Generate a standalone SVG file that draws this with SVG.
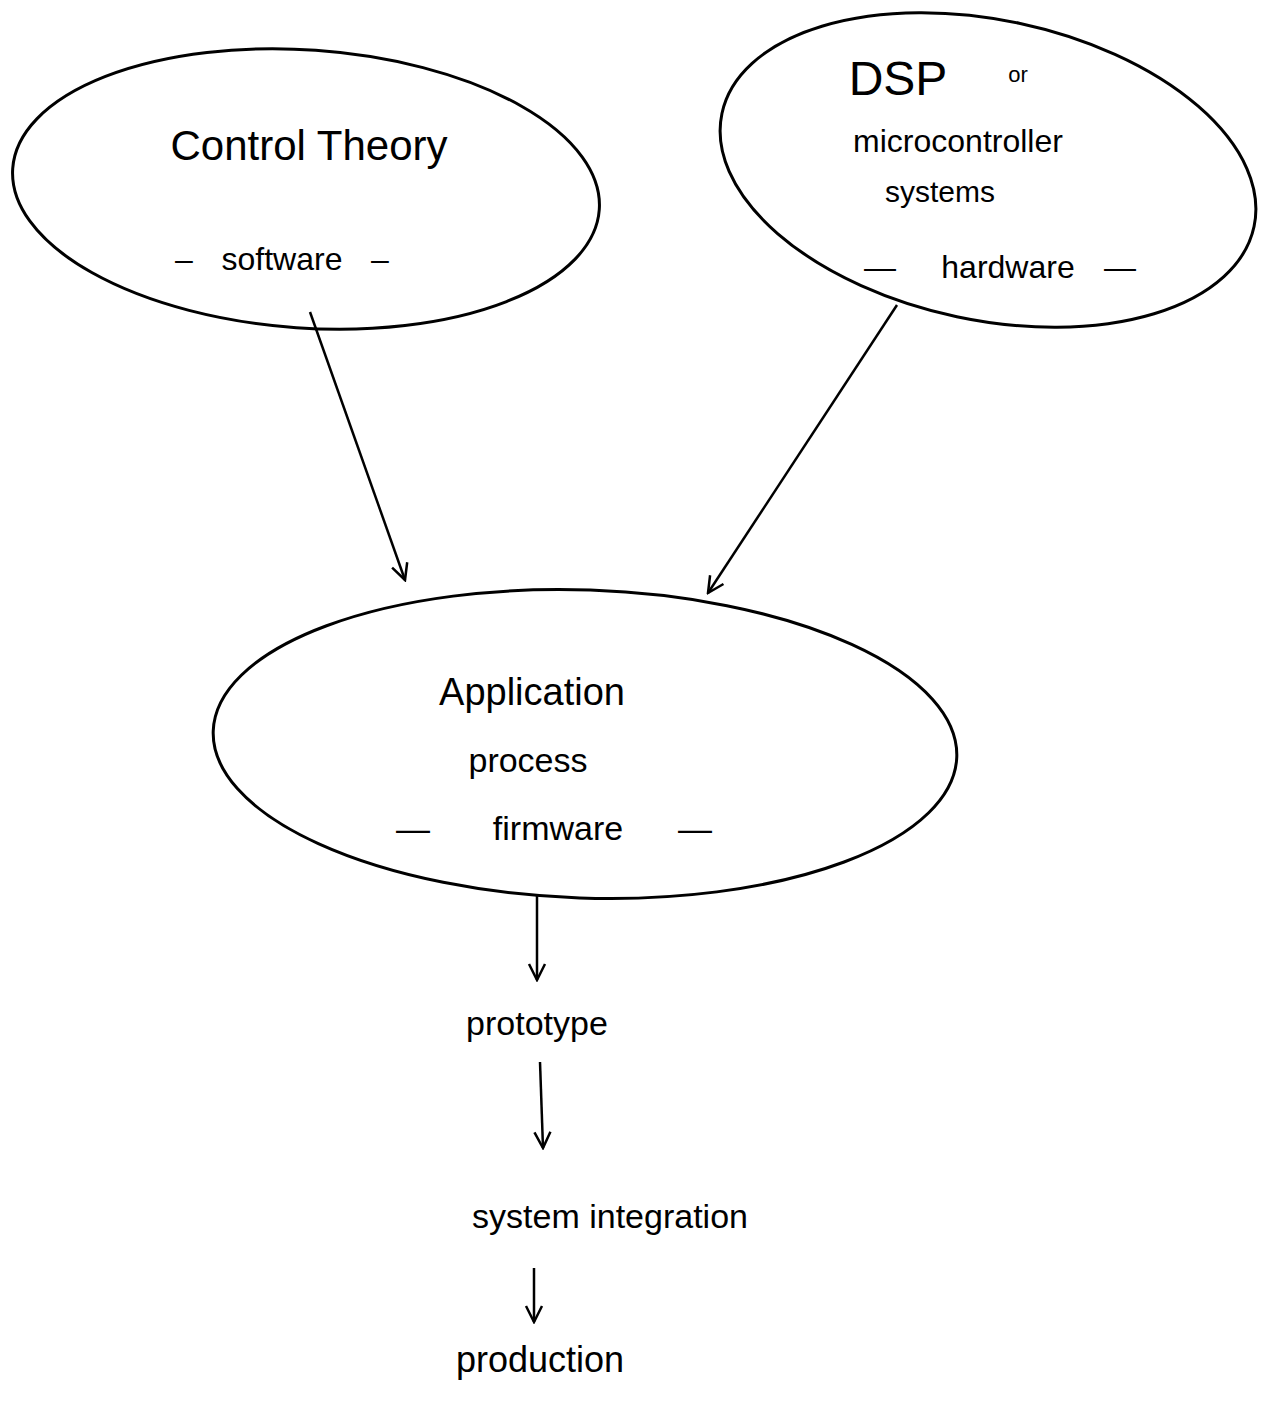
<svg xmlns="http://www.w3.org/2000/svg" width="1267" height="1406" viewBox="0 0 1267 1406">
<defs>
<style>
.node{fill:none;stroke:#000;stroke-width:3}
.t{font-family:"Liberation Sans","DejaVu Sans",sans-serif;fill:#000;text-anchor:middle}
.edge{fill:none;stroke:#000;stroke-width:2.5;marker-end:url(#v)}
</style>
<marker id="v" viewBox="0 0 20 20" refX="18" refY="10" markerWidth="20" markerHeight="20" markerUnits="userSpaceOnUse" orient="auto">
<path d="M2,2 L18,10 L2,18" fill="none" stroke="#000" stroke-width="2.5"/>
</marker>
</defs>
<rect width="1267" height="1406" fill="#fff"/>
<g id="control-theory">
<ellipse class="node" cx="306" cy="189" rx="294" ry="139" transform="rotate(4 306 189)"/>
<text class="t" x="309" y="160" font-size="42">Control Theory</text>
<text class="t" x="184" y="270" font-size="32">–</text>
<text class="t" x="282" y="270" font-size="32">software</text>
<text class="t" x="380" y="270" font-size="32">–</text>
</g>
<g id="dsp">
<ellipse class="node" cx="988" cy="170" rx="272" ry="150" transform="rotate(12 988 170)"/>
<text class="t" x="898" y="95" font-size="48">DSP</text>
<text class="t" x="1018" y="82" font-size="22">or</text>
<text class="t" x="958" y="152" font-size="32">microcontroller</text>
<text class="t" x="940" y="202" font-size="30">systems</text>
<text class="t" x="880" y="278" font-size="32">—</text>
<text class="t" x="1008" y="278" font-size="32">hardware</text>
<text class="t" x="1120" y="278" font-size="32">—</text>
</g>
<g id="application">
<ellipse class="node" cx="585" cy="744" rx="372" ry="154" transform="rotate(2 585 744)"/>
<text class="t" x="532" y="705" font-size="38">Application</text>
<text class="t" x="528" y="772" font-size="34">process</text>
<text class="t" x="413" y="840" font-size="34">—</text>
<text class="t" x="558" y="840" font-size="34">firmware</text>
<text class="t" x="695" y="840" font-size="34">—</text>
</g>
<g id="prototype">
<text class="t" x="537" y="1035" font-size="34">prototype</text>
</g>
<g id="system-integration">
<text class="t" x="610" y="1228" font-size="34">system integration</text>
</g>
<g id="production">
<text class="t" x="540" y="1372" font-size="36">production</text>
</g>
<g id="connectors">
<path class="edge" d="M310,312 L405,580"/>
<path class="edge" d="M897,305 L708,593"/>
<path class="edge" d="M537,895 L537,980"/>
<path class="edge" d="M540,1062 L543,1148"/>
<path class="edge" d="M534,1268 L534,1322"/>
</g>
</svg>
